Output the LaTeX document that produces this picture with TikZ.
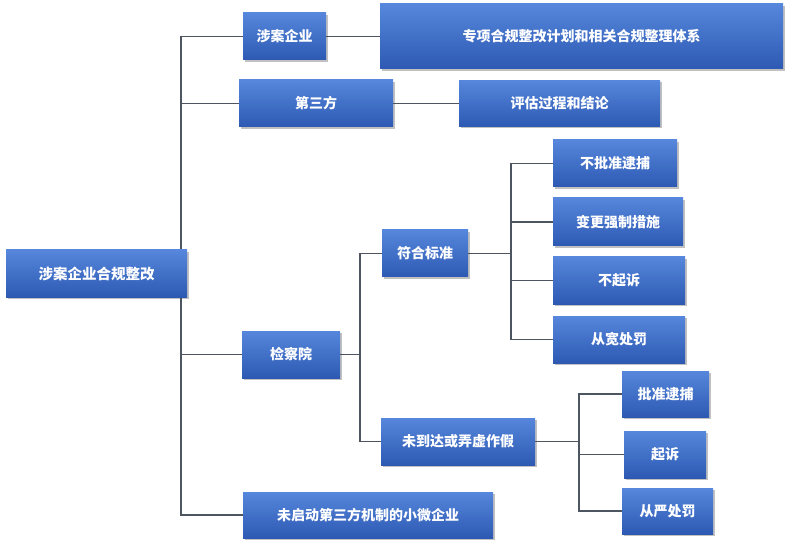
\documentclass[tikz,border=0pt]{standalone}
\usepackage{fontspec}
\usepackage{tikz}
\usepackage{xcolor}
\usetikzlibrary{shadows, backgrounds}
\newfontfamily\cjk{Noto Sans CJK SC}
\definecolor{Box_Top}{HTML}{5687DC}
\definecolor{Box_Bottom}{HTML}{2D59B3}
\definecolor{Link_Gray}{HTML}{4D5560}

\tikzset{
    blockbox/.style={top color=Box_Top, bottom color=Box_Bottom, draw=none,
        text=white, font=\cjk\bfseries\fontsize{14}{16}\selectfont,
        inner sep=0pt, minimum height=47pt,
        drop shadow={shadow xshift=1.5pt, shadow yshift=-2pt, opacity=0.35, fill=black!70}},
    link/.style={draw=Link_Gray, line width=1.1pt}
}

\begin{document}
\begin{tikzpicture}[x=1pt, y=-1pt]

    \useasboundingbox (0,0) rectangle (800,545);

    % === Fork points ===
    \coordinate (trunk) at (181,273.5);
    \coordinate (jcyfork) at (360,354.5);
    \coordinate (fuhefork) at (511,253.5);
    \coordinate (weidafork) at (579,441.5);

    % === Root ===
    \node[blockbox, minimum width=181pt, font=\cjk\bfseries\fontsize{14.5}{17}\selectfont] (root) at (96.5,273.5) {涉案企业合规整改};

    % === Enterprise and third party ===
    \node[blockbox, minimum width=83pt] (qiye) at (284.5,36.5) {涉案企业};
    \node[blockbox, minimum width=403pt, minimum height=65pt] (tixi) at (581.5,36.5) {专项合规整改计划和相关合规整理体系};
    \node[blockbox, minimum width=154pt] (disanfang) at (316,103.5) {第三方};
    \node[blockbox, minimum width=201pt, minimum height=46pt] (pinggu) at (559.5,103.5) {评估过程和结论};

    % === Procuratorate ===
    \node[blockbox, minimum width=98pt] (jcy) at (291,354.5) {检察院};
    \node[blockbox, minimum width=86pt] (fuhe) at (425,253.5) {符合标准};
    \node[blockbox, minimum width=124pt] (bupizhun) at (615,163.5) {不批准逮捕};
    \node[blockbox, minimum width=130pt, minimum height=48pt] (biangeng) at (618,222) {变更强制措施};
    \node[blockbox, minimum width=132pt] (buqisu) at (619,280.5) {不起诉};
    \node[blockbox, minimum width=132pt] (congkuan) at (619,339.5) {从宽处罚};

    \node[blockbox, minimum width=154pt] (weidaoda) at (458,441.5) {未到达或弄虚作假};
    \node[blockbox, minimum width=87pt, minimum height=46pt] (pizhun) at (665.5,394) {批准逮捕};
    \node[blockbox, minimum width=82pt] (qisu) at (665,454.5) {起诉};
    \node[blockbox, minimum width=91pt, minimum height=46pt] (congyan) at (667.5,511) {从严处罚};

    % === Small enterprises ===
    \node[blockbox, minimum width=250pt, minimum height=46pt] (xiaowei) at (368,515) {未启动第三方机制的小微企业};

    % === Connectors (behind the boxes) ===
    \begin{pgfonlayer}{background}
        \draw[link] (qiye.west) -| (trunk) |- (xiaowei.west);
        \draw[link] (disanfang.west) -- (disanfang.west -| trunk);
        \draw[link] (jcy.west) -- (jcy.west -| trunk);
        \draw[link] (qiye.east) -- (qiye.east -| tixi.west);
        \draw[link] (disanfang.east) -- (disanfang.east -| pinggu.west);

        \draw[link] (jcy.east) -- (jcyfork);
        \draw[link] (fuhe.west) -| (jcyfork) |- (weidaoda.west);

        \draw[link] (fuhe.east) -- (fuhefork);
        \draw[link] (bupizhun.west) -| (fuhefork) |- (congkuan.west);
        \draw[link] (biangeng.west) -- (biangeng.west -| fuhefork);
        \draw[link] (buqisu.west) -- (buqisu.west -| fuhefork);

        \draw[link] (weidaoda.east) -- (weidafork);
        \draw[link] (pizhun.west) -| (weidafork) |- (congyan.west);
        \draw[link] (qisu.west) -- (qisu.west -| weidafork);
    \end{pgfonlayer}

\end{tikzpicture}
\end{document}
